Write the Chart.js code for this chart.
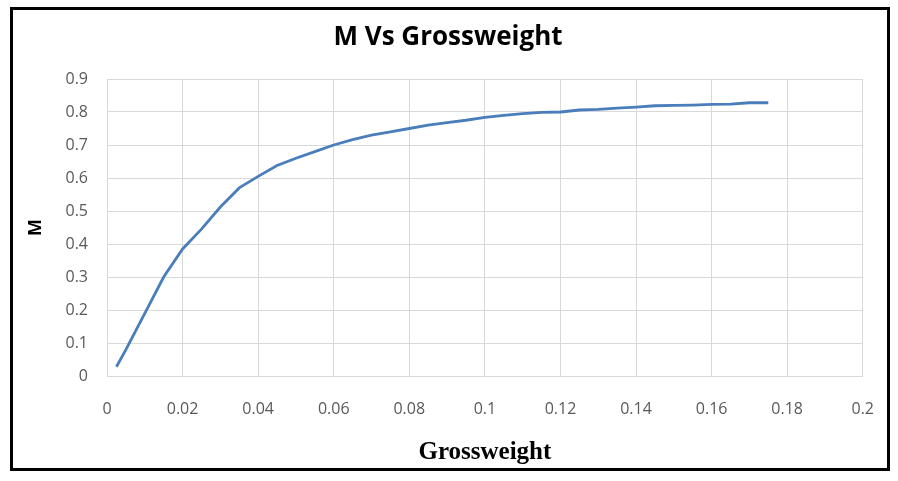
<!DOCTYPE html>
<html>
<head>
<meta charset="utf-8">
<script src="https://cdn.jsdelivr.net/npm/chart.js@4/dist/chart.umd.min.js"></script>
<style>
html,body{margin:0;padding:0;background:#fff;}
#wrap{width:898px;height:481px;position:relative;}
</style>
</head>
<body>
<div id="wrap"><canvas id="c" width="898" height="481"></canvas></div>
<script>
const chartTitle = 'M Vs Grossweight';
const xTitle = 'Grossweight';
const yTitle = 'M';
const grossweight = [0.0025, 0.005, 0.01, 0.015, 0.02, 0.025, 0.03, 0.035, 0.04, 0.045, 0.05, 0.055, 0.06, 0.065, 0.07, 0.075, 0.08, 0.085, 0.09, 0.095, 0.1, 0.105, 0.11, 0.115, 0.12, 0.125, 0.13, 0.135, 0.14, 0.145, 0.15, 0.155, 0.16, 0.165, 0.17, 0.175];
const mValues = [0.028, 0.08, 0.19, 0.30, 0.385, 0.445, 0.512, 0.57, 0.605, 0.638, 0.66, 0.68, 0.70, 0.716, 0.73, 0.74, 0.75, 0.76, 0.768, 0.775, 0.784, 0.79, 0.795, 0.799, 0.80, 0.806, 0.808, 0.812, 0.815, 0.819, 0.82, 0.821, 0.823, 0.824, 0.828, 0.828];
const xTickLabels = ['0','0.02','0.04','0.06','0.08','0.1','0.12','0.14','0.16','0.18','0.2'];
const yTickLabels = ['0','0.1','0.2','0.3','0.4','0.5','0.6','0.7','0.8','0.9'];

const points = grossweight.map((x, i) => ({x: x, y: mValues[i]}));

const framePlugin = {
  id: 'frameAndTitle',
  beforeDraw(chart) {
    const ctx = chart.ctx;
    ctx.save();
    ctx.fillStyle = '#fff';
    ctx.fillRect(0, 0, chart.width, chart.height);
    ctx.restore();
  },
  afterDraw(chart) {
    const ctx = chart.ctx;
    ctx.save();
    ctx.fillStyle = '#000';
    ctx.font = 'bold 26px "Open Sans"';
    ctx.textAlign = 'center';
    ctx.textBaseline = 'middle';
    ctx.fillText(chartTitle, 448, 38);
    ctx.strokeStyle = '#000';
    ctx.lineWidth = 3;
    ctx.strokeRect(11.5, 8.5, 877, 461);
    ctx.restore();
  }
};

new Chart(document.getElementById('c'), {
  type: 'line',
  data: {
    datasets: [{
      data: points,
      borderColor: '#4a7ebb',
      borderWidth: 2.8,
      pointRadius: 0,
      tension: 0,
      fill: false
    }]
  },
  options: {
    responsive: false,
    animation: false,
    devicePixelRatio: 1,
    layout: {padding: {left: 0, right: 31, top: 79, bottom: 0}},
    plugins: {
      legend: {display: false},
      tooltip: {enabled: false},
      title: {display: false}
    },
    scales: {
      x: {
        type: 'linear',
        min: 0, max: 0.2,
        afterFit(scale) { scale.height = 105; },
        afterBuildTicks(scale) { scale.ticks = xTickLabels.map(t => ({value: parseFloat(t)})); },
        ticks: {
          callback: (v, i) => xTickLabels[i],
          color: '#595959',
          font: {family: 'Open Sans', size: 16},
          padding: 24,
          maxRotation: 0,
          autoSkip: false
        },
        grid: {color: '#d9d9d9', lineWidth: 1, drawTicks: false},
        border: {display: true, color: '#d9d9d9'},
        title: {
          display: true,
          text: xTitle,
          color: '#000',
          font: {family: 'Liberation Serif', size: 25, weight: 'bold', lineHeight: 1.2},
          padding: {top: 0, bottom: 13}
        }
      },
      y: {
        type: 'linear',
        min: 0, max: 0.9,
        afterFit(scale) { scale.width = 107; },
        afterBuildTicks(scale) { scale.ticks = yTickLabels.map(t => ({value: parseFloat(t)})); },
        ticks: {
          callback: (v, i) => yTickLabels[i],
          color: '#595959',
          font: {family: 'Open Sans', size: 16},
          padding: 19
        },
        grid: {color: '#d9d9d9', lineWidth: 1, drawTicks: false},
        border: {display: true, color: '#d9d9d9'},
        title: {
          display: true,
          text: yTitle,
          color: '#000',
          font: {family: 'Open Sans', size: 18, weight: 'bold', lineHeight: 1.2},
          padding: {top: 25, bottom: 0}
        }
      }
    }
  },
  plugins: [framePlugin]
});
</script>
</body>
</html>
